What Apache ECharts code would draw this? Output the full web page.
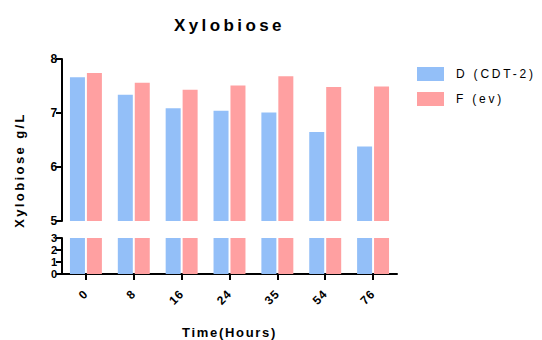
<!DOCTYPE html>
<html>
<head>
<meta charset="utf-8">
<script src="https://cdn.jsdelivr.net/npm/echarts@6/dist/echarts.min.js"></script>
<style>
  html, body { margin: 0; padding: 0; background: #fff; }
  #chart { width: 542px; height: 340px; }
</style>
</head>
<body>
<div id="chart"></div>
<script>
// Xylobiose concentration over time, two strains, broken y axis (0-3 / 5-8)
const hours = ['0', '8', '16', '24', '35', '54', '76'];
const dCdt2 = [7.66, 7.34, 7.09, 7.04, 7.01, 6.65, 6.38];
const fEv = [7.74, 7.56, 7.43, 7.51, 7.68, 7.48, 7.49];
const upperTicks = [5, 6, 7, 8];
const lowerTicks = [0, 1, 2, 3];

const FONT = 'Arial, "Liberation Sans", sans-serif';
const BLUE = '#93bff8';
const RED = '#ffa0a1';

const chart = echarts.init(document.getElementById('chart'), null, { renderer: 'svg' });

function yAxisFor(gridIndex, ticks, labelSize) {
  return {
    type: 'value',
    gridIndex: gridIndex,
    min: ticks[0],
    max: ticks[ticks.length - 1],
    interval: 1,
    axisLine: { show: true, lineStyle: { color: '#000', width: 2 } },
    axisTick: { show: true, length: 6, lineStyle: { color: '#000', width: 2 } },
    axisLabel: {
      color: '#000', fontWeight: 'bold', fontSize: labelSize, lineHeight: labelSize,
      fontFamily: FONT, margin: 4
    },
    splitLine: { show: false }
  };
}

function barSeries(name, data, idx, color) {
  return {
    name: name,
    type: 'bar',
    xAxisIndex: idx,
    yAxisIndex: idx,
    data: data,
    barWidth: 15,
    barGap: '13%',
    clip: true,
    itemStyle: { color: color },
    emphasis: { disabled: true }
  };
}

chart.setOption({
  animation: false,
  title: {
    text: 'Xylobiose',
    left: 174,
    top: 17,
    padding: 0,
    textStyle: { fontFamily: FONT, fontSize: 17, fontWeight: 'bold', color: '#000' }
  },
  legend: {
    orient: 'vertical',
    left: 417,
    top: 67,
    padding: 0,
    itemWidth: 27,
    itemHeight: 14,
    itemGap: 11,
    icon: 'rect',
    data: ['D (CDT-2)', 'F (ev)'],
    textStyle: { fontFamily: FONT, fontSize: 12, color: '#000', padding: [0, 0, 0, 7] }
  },
  grid: [
    { left: 62, width: 335, top: 59, height: 162 },
    { left: 62, width: 335, top: 238, height: 40 }
  ],
  xAxis: [
    { type: 'category', gridIndex: 0, data: hours, show: false },
    {
      type: 'category', gridIndex: 1, data: hours,
      axisLine: { show: true, lineStyle: { color: '#000', width: 2 } },
      axisTick: { show: true, alignWithLabel: true, length: 6, lineStyle: { color: '#000', width: 2 } },
      axisLabel: { color: '#000', fontWeight: 'bold', fontSize: 12, fontFamily: FONT, rotate: 45, margin: 18 },
      name: 'Time(Hours)',
      nameLocation: 'middle',
      nameGap: 52,
      nameTextStyle: { color: '#000', fontWeight: 'bold', fontSize: 13, fontFamily: FONT }
    }
  ],
  yAxis: [
    yAxisFor(0, upperTicks, 12),
    yAxisFor(1, lowerTicks, 11)
  ],
  graphic: [{
    type: 'text',
    x: 19,
    y: 170,
    rotation: Math.PI / 2,
    style: {
      text: 'Xylobiose g/L',
      fontFamily: FONT,
      fontSize: 13,
      fontWeight: 'bold',
      fill: '#000',
      align: 'center',
      verticalAlign: 'middle'
    }
  }],
  series: [
    barSeries('D (CDT-2)', dCdt2, 0, BLUE),
    barSeries('F (ev)', fEv, 0, RED),
    barSeries('D (CDT-2)', dCdt2, 1, BLUE),
    barSeries('F (ev)', fEv, 1, RED)
  ]
});

// Spaced-out lettering for the titles and legend entries
const spacing = {
  'Xylobiose': '3.4px',
  'Xylobiose g/L': '2.4px',
  'Time(Hours)': '1.7px',
  'D (CDT-2)': '2.8px',
  'F (ev)': '2.8px'
};
function applySpacing() {
  document.querySelectorAll('#chart svg text').forEach(function (t) {
    const key = t.textContent.replace(/\s+/g, ' ').trim();
    const s = spacing[key] || '0.8px';
    if (t.style.letterSpacing !== s) t.style.letterSpacing = s;
  });
}
chart.on('finished', applySpacing);
applySpacing();
new MutationObserver(applySpacing).observe(document.getElementById('chart'), { childList: true, subtree: true, characterData: true });
</script>
</body>
</html>
